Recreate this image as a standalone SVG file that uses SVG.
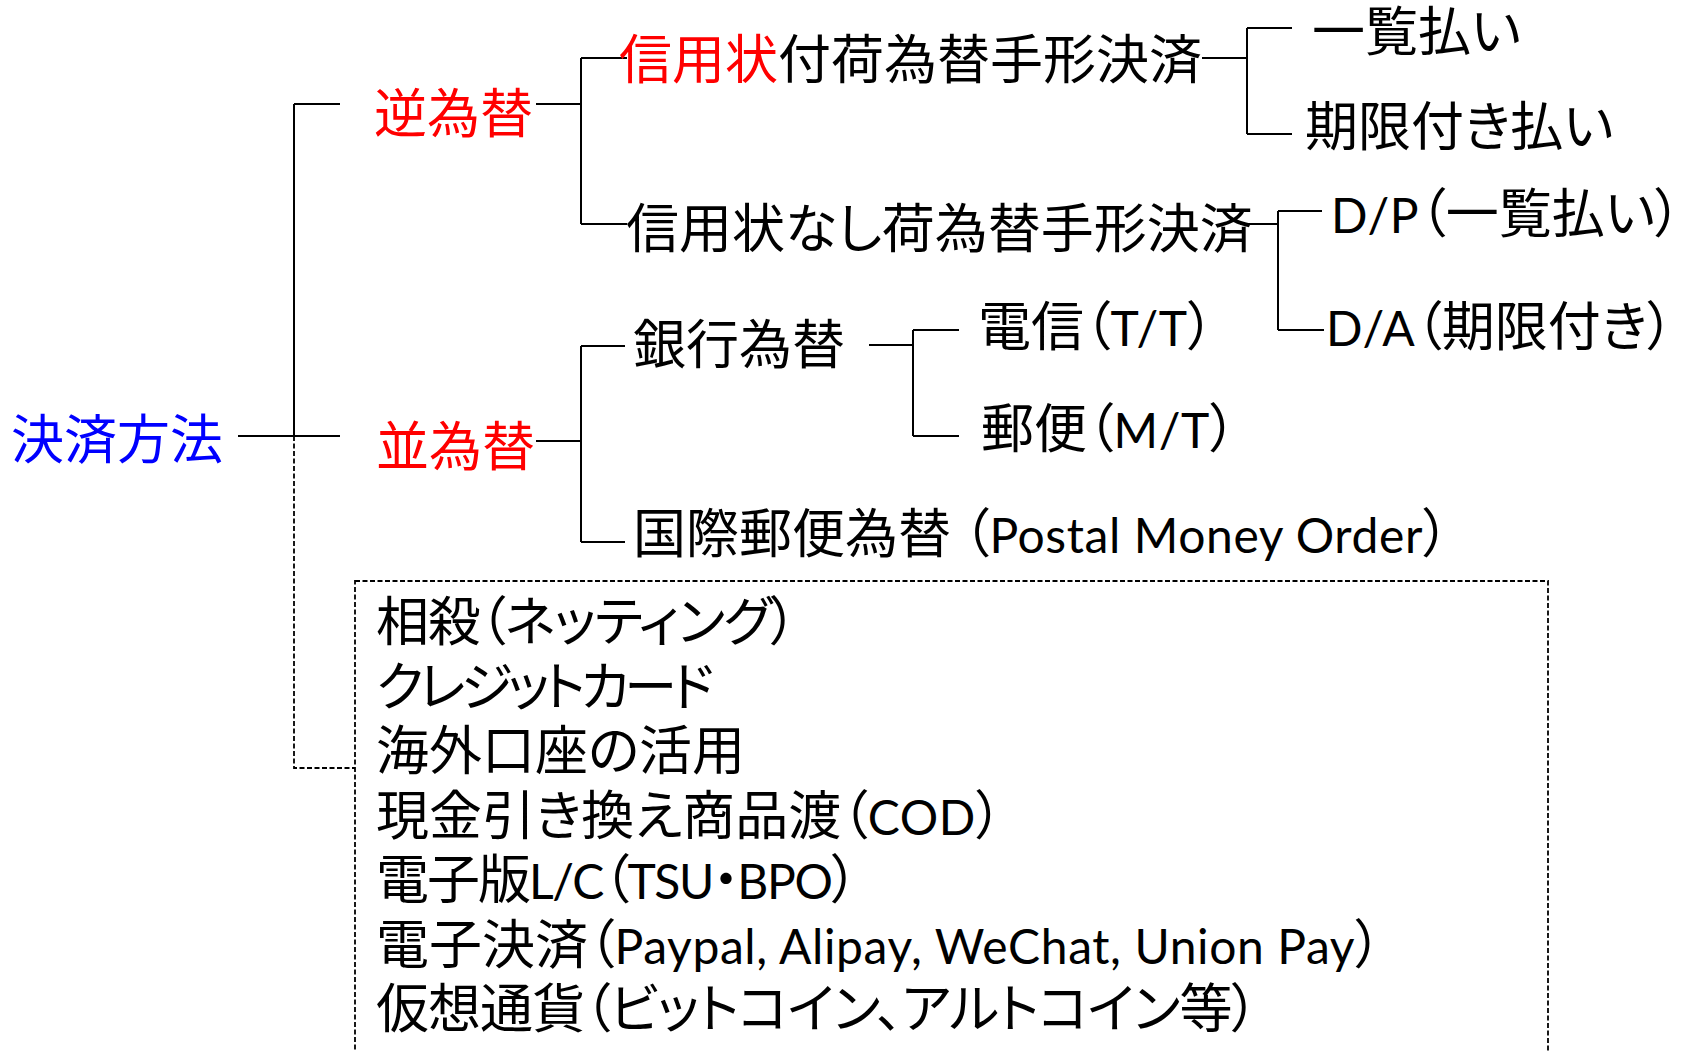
<svg xmlns="http://www.w3.org/2000/svg" width="1685" height="1051" viewBox="0 0 1685 1051">
<style>
text { font-family: "Noto Sans CJK JP", sans-serif; font-size: 53px; fill: #000; font-feature-settings: "palt"; }
.lat { font-family: Lato, "Noto Sans CJK JP", sans-serif; font-size: 48px; letter-spacing: 0.6px; }
.red { fill: #ff0000; }
.blue { fill: #0000ff; }
.ln { stroke: #000; stroke-width: 2; fill: none; }
.dash { stroke: #000; stroke-width: 1.8; fill: none; stroke-dasharray: 5 2.5; }
</style>
<rect width="1685" height="1051" fill="#ffffff"/>
<g id="connectors">
  <path class="ln" d="M238 436 H340 M294 104 V436 M294 104 H340"/>
  <path class="dash" d="M294 436 V768 H355"/>
  <path class="ln" d="M536 104 H581 M581 58 V224 M581 58 H627 M581 224 H627"/>
  <path class="ln" d="M1202 58 H1247 M1247 28 V134 M1247 28 H1292 M1247 134 H1292"/>
  <path class="ln" d="M1240 224 H1278 M1278 211 V330 M1278 211 H1322 M1278 330 H1324"/>
  <path class="ln" d="M536 441 H581 M581 346 V542 M581 346 H625 M581 542 H625"/>
  <path class="ln" d="M869 345 H913 M913 330 V436 M913 330 H959 M913 436 H959"/>
</g>
<g id="n-kessai"><text class="blue" x="11" y="459">決済方法</text></g>
<g id="n-gyaku"><text class="red" x="374" y="133">逆為替</text></g>
<g id="n-nami"><text class="red" x="376" y="466">並為替</text></g>
<g id="n-lc"><text x="619" y="79"><tspan class="red">信用状</tspan>付荷為替手形決済</text></g>
<g id="n-ichiran"><text x="1312" y="51">一覧払い</text></g>
<g id="n-kigen"><text x="1305" y="146">期限付き払い</text></g>
<g id="n-nolc"><text x="626" y="248">信用状なし荷為替手形決済</text></g>
<g id="n-dp"><text x="1331" y="233"><tspan class="lat">D/P</tspan>（一覧払い）</text></g>
<g id="n-da"><text x="1326" y="346"><tspan class="lat">D/A</tspan>（期限付き）</text></g>
<g id="n-ginko"><text x="633" y="364">銀行為替</text></g>
<g id="n-tt"><text x="978" y="346">電信（<tspan class="lat">T/T</tspan>）</text></g>
<g id="n-mt"><text x="981" y="448">郵便（<tspan class="lat">M/T</tspan>）</text></g>
<g id="n-postal"><text x="633" y="553">国際郵便為替 （<tspan class="lat">Postal Money Order</tspan>）</text></g>
<g id="n-others">
  <rect class="dash" x="355" y="581" width="1193" height="500"/>
  <text x="376" y="641" textLength="421" lengthAdjust="spacing">相殺（ネッティング）</text>
  <text x="376" y="705.5" textLength="338" lengthAdjust="spacing">クレジットカード</text>
  <text x="376" y="770">海外口座の活用</text>
  <text x="376" y="834.5">現金引き換え商品渡（<tspan class="lat">COD</tspan>）</text>
  <text x="376" y="899" textLength="482" lengthAdjust="spacing">電子版<tspan class="lat">L/C</tspan>（<tspan class="lat">TSU</tspan>・<tspan class="lat">BPO</tspan>）</text>
  <text x="376" y="963.5">電子決済（<tspan class="lat">Paypal, Alipay, WeChat, Union Pay</tspan>）</text>
  <text x="376" y="1028" textLength="882" lengthAdjust="spacing">仮想通貨（ビットコイン、アルトコイン等）</text>
</g>
</svg>
